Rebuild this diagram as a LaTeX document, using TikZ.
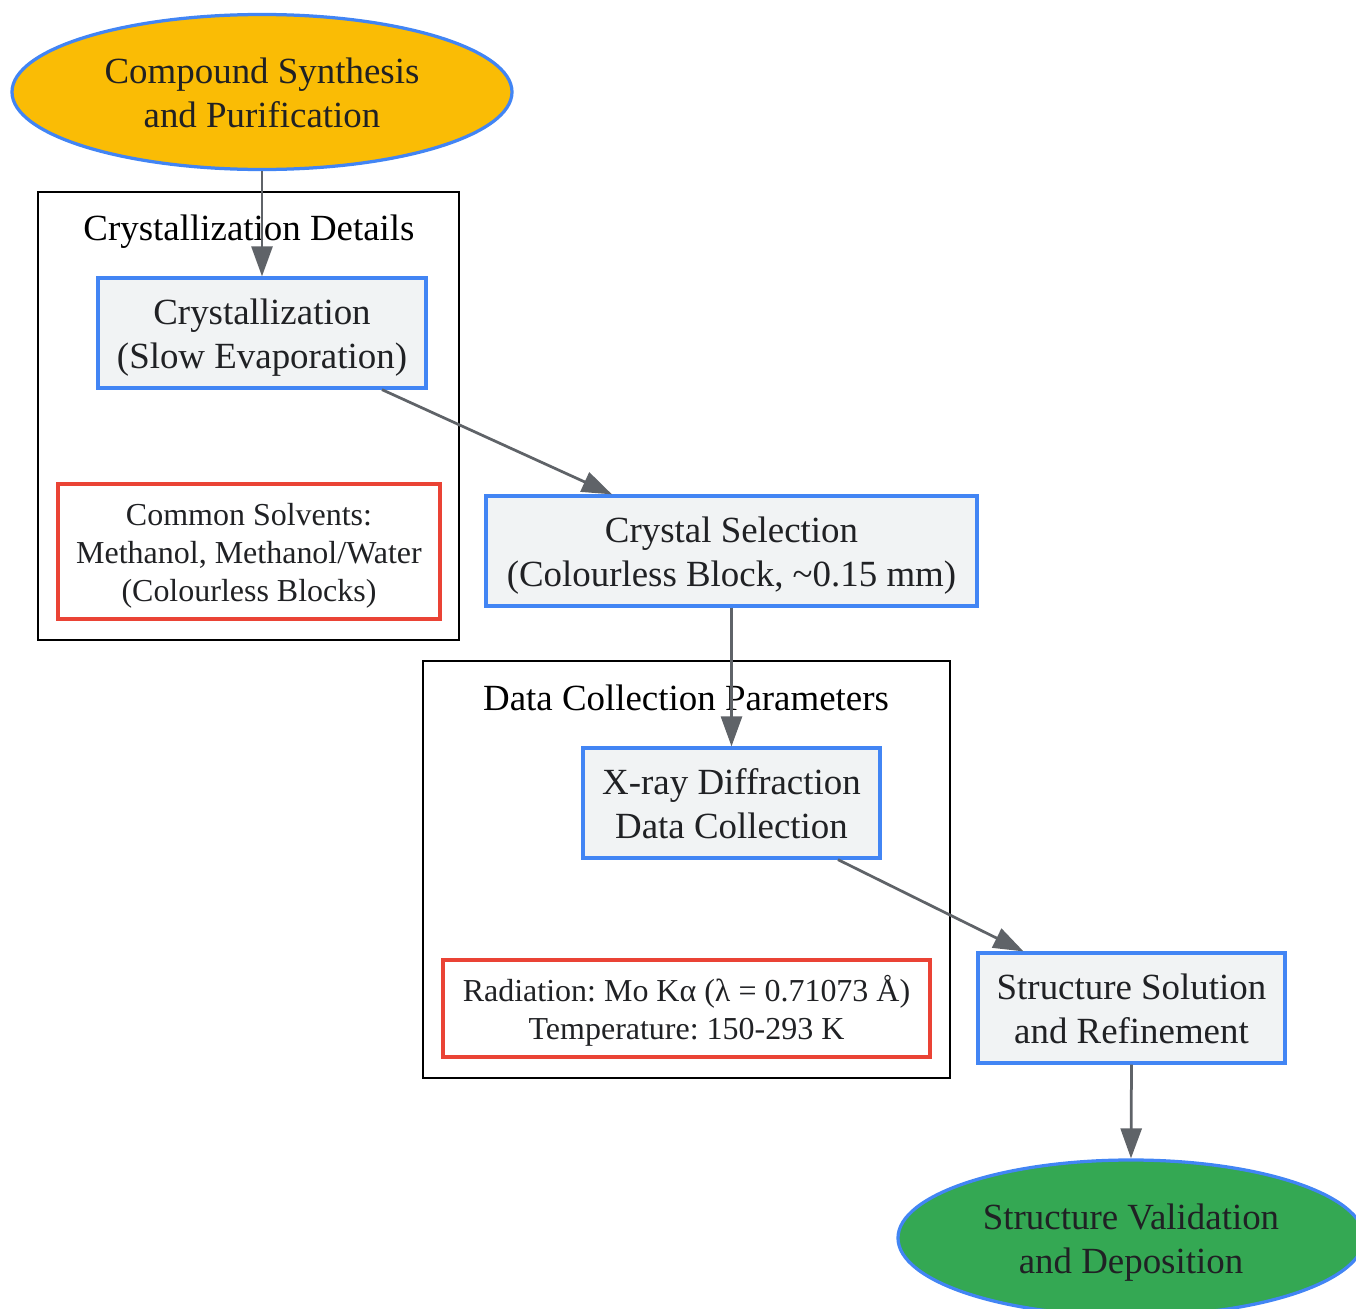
\documentclass[tikz,border=0pt]{standalone}
\usepackage{fontspec}
\setmainfont{Liberation Serif}
\usetikzlibrary{shapes.geometric,arrows.meta}
\definecolor{gblue}{HTML}{4285F4}
\definecolor{gyellow}{HTML}{FABC05}
\definecolor{ggreen}{HTML}{34A853}
\definecolor{gred}{HTML}{EA4335}
\definecolor{ggrey}{HTML}{F1F3F4}
\definecolor{garrow}{HTML}{5F6368}
\definecolor{gtext}{HTML}{202124}
\newcommand\up{\rule{0pt}{0.96em}}
\newcommand\dn{\rule[-0.22em]{0pt}{0pt}}
\frenchspacing

\begin{document}
\begin{tikzpicture}[every node/.style={align=center,text=gtext,inner sep=0pt},
					mainfont/.style={font=\fontsize{21}{25}\selectfont},
					notefont/.style={font=\fontsize{18.2}{21.6}\selectfont},
					terminal/.style={mainfont,ellipse,draw=gblue,line width=0.065cm},
					stepbox/.style={mainfont,rectangle,draw=gblue,fill=ggrey,line width=0.065cm,minimum height=2.2cm},
					notebox/.style={notefont,rectangle,draw=gred,line width=0.065cm},
					cluster/.style={rectangle,draw=black,line width=0.045cm},
					clustertitle/.style={mainfont,text=black},
					flow/.style={draw=garrow,line width=0.055cm,-{Triangle[length=0.6cm,width=0.42cm]}}]
					\useasboundingbox (0,0) rectangle (27.12,-26.18);
					\node[cluster,minimum width=8.42cm,minimum height=8.96cm] (crystclu) at (4.97,-8.32) {};
					\node[clustertitle] (crysttitle) at (4.98,-4.54) {\up Crystallization Details\dn};
					\node[cluster,minimum width=10.54cm,minimum height=8.34cm] (dataclu) at (13.73,-17.39) {};
					\node[clustertitle] (datatitle) at (13.72,-13.94) {\up Data Collection Parameters\dn};
					\node[terminal,fill=gyellow,minimum width=10cm,minimum height=3.1cm] (synth) at (5.24,-1.84) {\up Compound Synthesis\\and Purification\dn};
					\node[stepbox,minimum width=6.56cm] (cryst) at (5.24,-6.66) {\up Crystallization\\(Slow Evaporation)\dn};
					\node[notebox,minimum width=7.64cm,minimum height=2.7cm] (solv) at (4.98,-11.03) {\up Common Solvents:\\Methanol, Methanol/Water\\(Colourless Blocks)\dn};
					\node[stepbox,minimum width=9.82cm] (select) at (14.63,-11.02) {\up Crystal Selection\\(Colourless Block, \textasciitilde0.15 mm)\dn};
					\node[stepbox,minimum width=5.94cm] (xrd) at (14.63,-16.06) {\up X-ray Diffraction\\Data Collection\dn};
					\node[notebox,minimum width=9.74cm,minimum height=1.94cm] (rad) at (13.73,-20.17) {\up Radiation: Mo Kα (λ = 0.71073 Å)\\Temperature: 150-293 K\dn};
					\node[stepbox,minimum width=6.14cm] (solve) at (22.63,-20.16) {\up Structure Solution\\and Refinement\dn};
					\node[terminal,fill=ggreen,minimum width=9.32cm,minimum height=3.12cm] (valid) at (22.62,-24.76) {\up Structure Validation\\and Deposition\dn};
					\draw[flow] (synth.south) -- (cryst.north);
					\draw[flow] ([xshift=2.4cm]cryst.south) -- ([xshift=-2.39cm]select.north);
					\draw[flow] (select.south) -- (xrd.north);
					\draw[flow] ([xshift=2.13cm]xrd.south) -- ([xshift=-2.16cm]solve.north);
					\draw[flow] (solve.south) -- (valid.north);
\end{tikzpicture}
\end{document}
